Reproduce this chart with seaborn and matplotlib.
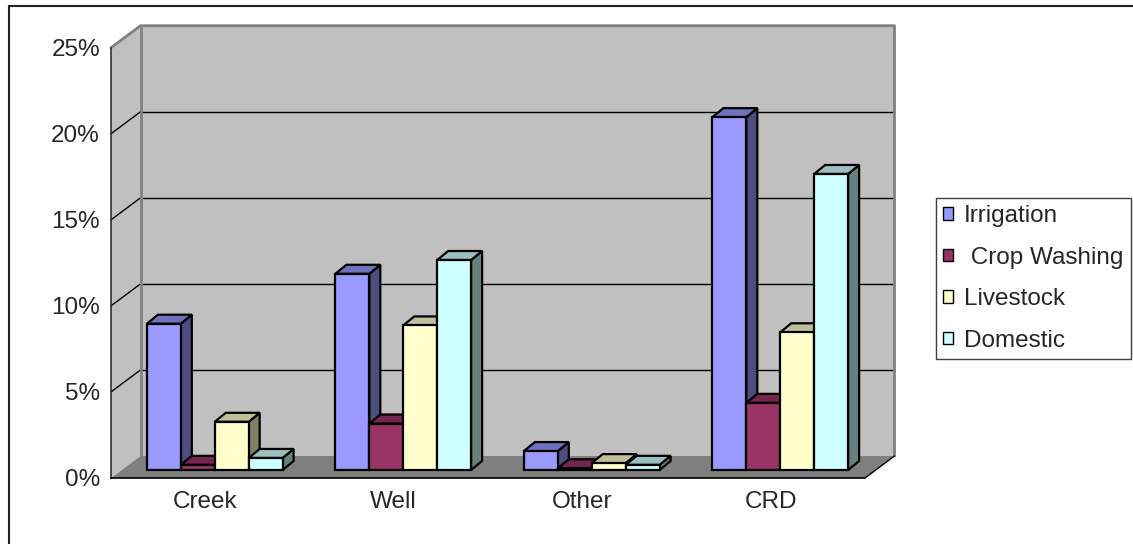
import matplotlib
matplotlib.use("Agg")
import matplotlib.pyplot as plt
import pandas as pd
import seaborn as sns
from matplotlib.patches import Polygon, Rectangle
from matplotlib.lines import Line2D
from matplotlib.ticker import PercentFormatter, FixedLocator

# ---- data -------------------------------------------------------------
sources = ["Creek", "Well", "Other", "CRD"]
uses = ["Irrigation", " Crop Washing", "Livestock", "Domestic"]
irrigation = [0.085, 0.114, 0.011, 0.205]
crop_washing = [0.003, 0.027, 0.001, 0.039]
livestock = [0.028, 0.084, 0.004, 0.080]
domestic = [0.007, 0.122, 0.003, 0.172]
y_ticks = [0.0, 0.05, 0.10, 0.15, 0.20, 0.25]

# ---- colours (front face, right side, top) ----------------------------
front_colors = ["#9999FF", "#993366", "#FFFFCC", "#CCFFFF"]
side_colors = ["#4D4D80", "#4D1A33", "#808066", "#668080"]
top_colors = ["#7070C0", "#752650", "#BFBF99", "#99BFBF"]
wall_color = "#C0C0C0"
floor_color = "#808080"
edge_gray = "#808080"

df = pd.DataFrame({
    "source": sources * 4,
    "use": [u for u in uses for _ in sources],
    "share": irrigation + crop_washing + livestock + domestic,
})

sns.set_style("white")
plt.rcParams["font.family"] = ["Liberation Sans", "DejaVu Sans"]
FS = 17.5

W, H = 1133, 544
fig = plt.figure(figsize=(W / 100, H / 100), dpi=100)

# front plane of the plot box, in pixels from the top-left corner
x0, x1 = 111, 865
y_base, y_top = 478, 47.7
ax = fig.add_axes([x0 / W, (H - y_base) / H, (x1 - x0) / W, (y_base - y_top) / H])
ax.patch.set_visible(False)

px_x = (x1 - x0) / 4.0
px_y = (y_base - y_top) / 0.25


def ddx(p):
    return p / px_x


def ddy(p):
    return p / px_y


# depth of the whole box, position of the bar row, and depth of each bar
wall_dx, wall_dy = ddx(29.5), ddy(22)
row_dx, row_dy = ddx(9.5), ddy(8)
bar_dx, bar_dy = ddx(11), ddy(9)

xl, xr = -0.5, 3.5
top = 0.25

# side wall and back wall
ax.add_patch(Polygon([(xl, 0), (xl + wall_dx, wall_dy), (xl + wall_dx, top + wall_dy), (xl, top)],
                     closed=True, fc=wall_color, ec="none", clip_on=False, zorder=0))
ax.add_patch(Polygon([(xl + wall_dx, wall_dy), (xr + wall_dx, wall_dy),
                      (xr + wall_dx, top + wall_dy), (xl + wall_dx, top + wall_dy)],
                     closed=True, fc=wall_color, ec="none", clip_on=False, zorder=0))

# gridlines on the back wall and the matching lines on the side wall
for v in y_ticks[1:-1]:
    ax.add_line(Line2D([xl + wall_dx, xr + wall_dx], [v + wall_dy, v + wall_dy],
                       color="black", lw=1, clip_on=False, zorder=1))
    ax.add_line(Line2D([xl, xl + wall_dx], [v, v + wall_dy],
                       color="black", lw=1, clip_on=False, zorder=1))

# wall outlines
ax.add_line(Line2D([xl, xl + wall_dx, xr + wall_dx, xr + wall_dx],
                   [top, top + wall_dy, top + wall_dy, wall_dy],
                   color=edge_gray, lw=2, clip_on=False, zorder=1.5))
ax.add_line(Line2D([xl + wall_dx, xl + wall_dx], [wall_dy, top + wall_dy],
                   color=edge_gray, lw=2, clip_on=False, zorder=1.5))

# floor
ax.add_patch(Polygon([(xl, 0), (xr, 0), (xr + wall_dx, wall_dy), (xl + wall_dx, wall_dy)],
                     closed=True, fc=floor_color, ec="none", clip_on=False, zorder=2))
ax.add_line(Line2D([xr, xr + wall_dx], [0, wall_dy], color="black", lw=1,
                   clip_on=False, zorder=2.2))

# ---- bars -------------------------------------------------------------
sns.barplot(data=df, x="source", y="share", hue="use", order=sources, hue_order=uses,
            palette=front_colors, saturation=1, width=0.72, errorbar=None,
            edgecolor="black", linewidth=1.6, ax=ax)
ax.set_xlim(-0.5, 3.5)
ax.set_ylim(0, 0.25)

bars = []
for hi, container in enumerate(ax.containers):
    for p in container:
        bars.append((p.get_x(), hi, p))
bars.sort(key=lambda t: t[0])

for k, (_, hi, p) in enumerate(bars):
    p.set_x(p.get_x() + row_dx)
    p.set_y(row_dy)
    p.set_clip_on(False)
    x, w, h, y0 = p.get_x(), p.get_width(), p.get_height(), p.get_y()
    z = 10 + 2 * k
    p.set_zorder(z + 1)
    # right side face
    ax.add_patch(Polygon([(x + w, y0), (x + w + bar_dx, y0 + bar_dy),
                          (x + w + bar_dx, y0 + h + bar_dy), (x + w, y0 + h)],
                         closed=True, fc=side_colors[hi], ec="black", lw=1.6,
                         clip_on=False, zorder=z))
    # top face
    ax.add_patch(Polygon([(x, y0 + h), (x + bar_dx, y0 + h + bar_dy),
                          (x + w + bar_dx, y0 + h + bar_dy), (x + w, y0 + h)],
                         closed=True, fc=top_colors[hi], ec="black", lw=1.6,
                         clip_on=False, zorder=z))

# ---- axes, ticks, labels ---------------------------------------------
for s in ["top", "right"]:
    ax.spines[s].set_visible(False)
ax.spines["left"].set_color("#303030")
ax.spines["left"].set_linewidth(1.2)
ax.spines["bottom"].set_color("black")
ax.spines["bottom"].set_linewidth(1.2)
ax.spines["left"].set_zorder(3)
ax.spines["bottom"].set_zorder(3)

ax.yaxis.set_major_locator(FixedLocator(y_ticks))
ax.yaxis.set_major_formatter(PercentFormatter(1.0, decimals=0))
ax.tick_params(axis="y", which="major", direction="out", length=4.5, width=1,
               color="black", labelsize=FS, pad=3.5)
ax.xaxis.set_minor_locator(FixedLocator([-0.5, 0.5, 1.5, 2.5, 3.5]))
ax.tick_params(axis="x", which="minor", direction="out", length=4.5, width=1, color="black")
ax.tick_params(axis="x", which="major", length=0, labelsize=FS, pad=9)
ax.set_xlabel("")
ax.set_ylabel("")

# ---- legend -----------------------------------------------------------
if ax.get_legend() is not None:
    ax.get_legend().remove()
handles = [Rectangle((0, 0), 1, 1, fc=c, ec="black", lw=1) for c in front_colors]
leg = fig.legend(handles, uses, loc="upper left",
                 bbox_to_anchor=(936 / W, 1 - 198 / H), bbox_transform=fig.transFigure,
                 fontsize=FS, frameon=True, fancybox=False, framealpha=1,
                 edgecolor="#404040", borderpad=0.3, labelspacing=0.8,
                 handlelength=0.4, handleheight=0.4, handletextpad=0.45,
                 borderaxespad=0)
leg.get_frame().set_linewidth(1)

# outer chart border
fig.add_artist(Rectangle((8.5 / W, -0.1), 2, (H - 6) / H + 0.1, transform=fig.transFigure,
                         fill=False, lw=1.5, ec="#202020"))

fig.savefig("out.png", dpi=100)
